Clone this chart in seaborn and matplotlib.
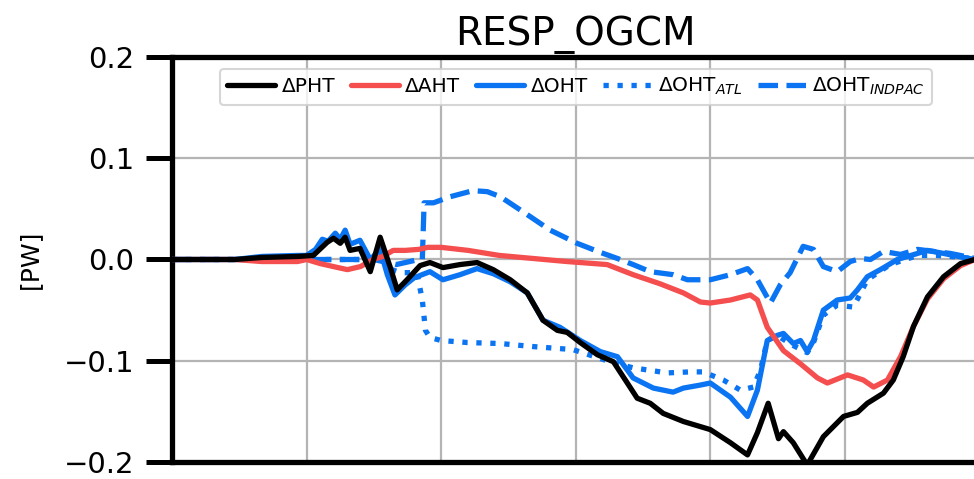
import numpy as np
import pandas as pd
import matplotlib
matplotlib.use("Agg")
import matplotlib.pyplot as plt
import seaborn as sns

# ---------------- data (latitude, PW) ----------------
lat_pht = [-90, -76, -70, -62, -58.5, -55.4, -54, -52.5, -51.4, -50.3, -48.1, -45.8, -43.6,
           -41.4, -39.8, -37.6, -34.7, -32.5, -29.6, -25.8, -22, -18.4, -14.6, -10.8, -7.3,
           -4.1, -1.9, 1.0, 4.8, 8.4, 11.5, 13.7, 16.6, 19.5, 24.0, 30.0, 34.5, 38.3, 40.5,
           42.9, 45.2, 46.3, 48.5, 51.6, 55.2, 59.7, 62.8, 65.0, 68.6, 70.8, 73.0, 75.3,
           78.4, 82.0, 85.8, 89, 90]
pht = [0, 0, 0.002, 0.003, 0.004, 0.017, 0.021, 0.016, 0.022, 0.009, 0.011, -0.012, 0.022,
       -0.007, -0.030, -0.020, -0.006, -0.003, -0.008, -0.005, -0.003, -0.010, -0.020, -0.033,
       -0.060, -0.070, -0.072, -0.082, -0.094, -0.101, -0.122, -0.137, -0.142, -0.152, -0.160,
       -0.168, -0.181, -0.193, -0.171, -0.142, -0.177, -0.170, -0.181, -0.203, -0.175, -0.155,
       -0.151, -0.142, -0.132, -0.119, -0.096, -0.066, -0.037, -0.017, -0.004, 0, 0]

lat_aht = [-90, -76, -70, -62, -60, -57, -53, -50.9, -48, -45.2, -43, -40.7, -38, -35, -33,
           -30, -28, -24, -17, -9.5, -2, 7, 12.8, 18.8, 24, 27.8, 30, 34.5, 38.9, 40.5, 42.7,
           46.3, 50.1, 53.9, 56.1, 60.6, 64.1, 66.4, 69.5, 72.4, 75.3, 78.4, 82, 85.8, 89, 90]
aht = [0, 0, -0.002, -0.002, 0, -0.004, -0.008, -0.010, -0.007, 0.0, 0.003, 0.009, 0.009,
       0.010, 0.012, 0.012, 0.011, 0.009, 0.004, 0.001, -0.002, -0.005, -0.015, -0.024, -0.033,
       -0.042, -0.043, -0.040, -0.035, -0.040, -0.067, -0.090, -0.103, -0.117, -0.122, -0.114,
       -0.119, -0.126, -0.119, -0.096, -0.066, -0.039, -0.019, -0.006, 0, 0]

lat_oht = [-90, -76, -70, -62, -60, -58, -56.5, -55.2, -53.6, -52.5, -51.4, -50.3, -48.1,
           -45.8, -43.6, -42, -40.3, -38, -36, -32.5, -29.6, -25.8, -22, -18.4, -14.6, -10.8,
           -7.3, -3.5, 1, 5.5, 9.3, 12.8, 17.3, 21.7, 24, 27.8, 30, 34.5, 38.3, 40.5, 42.7,
           44.9, 46.3, 48.5, 50.1, 51.6, 53, 55.2, 58.3, 61.2, 62.8, 65, 67.9, 71.7, 76.2,
           78.4, 82, 86.4, 89, 90]
oht = [0, 0, 0.003, 0.004, 0.004, 0.010, 0.020, 0.018, 0.026, 0.020, 0.029, 0.015, 0.019,
       0.0, 0.010, -0.015, -0.035, -0.025, -0.018, -0.012, -0.020, -0.015, -0.009, -0.014,
       -0.022, -0.033, -0.060, -0.067, -0.080, -0.091, -0.096, -0.117, -0.127, -0.131, -0.127,
       -0.124, -0.122, -0.136, -0.155, -0.129, -0.080, -0.075, -0.073, -0.083, -0.080, -0.091,
       -0.080, -0.050, -0.040, -0.038, -0.030, -0.017, -0.010, 0.0, 0.006, 0.009, 0.006,
       0.002, 0, 0]

lat_atl = [-90, -60, -43, -41, -39, -35.4, -34.2, -33.5, -32.5, -30, -24.2, -16.8, -9.5,
           -0.6, 8.4, 12.8, 20.4, 25.6, 28.4, 32.9, 36.7, 39.6, 41.2, 42.7, 44.9, 48.5, 51.6,
           53, 55.2, 58.3, 61.9, 65, 70.1, 76.2, 80.6, 86.4, 90]
atl = [0, 0, 0, -0.010, -0.013, -0.013, -0.040, -0.070, -0.077, -0.080, -0.082, -0.083,
       -0.086, -0.089, -0.102, -0.107, -0.112, -0.111, -0.111, -0.119, -0.129, -0.126, -0.109,
       -0.080, -0.075, -0.085, -0.092, -0.082, -0.055, -0.045, -0.047, -0.020, -0.005, 0.004,
       0.004, 0.002, 0]

lat_ind = [-90, -45, -40, -35, -34.2, -33.8, -31.7, -28, -22.9, -19.7, -16.8, -11.7, -5.7,
           0.3, 5.5, 9.3, 12.8, 16.6, 21.7, 24.9, 30, 34.5, 38.3, 40.5, 43.4, 45.6, 47.8, 50.7,
           53, 55.2, 58.3, 61.2, 63.5, 65.7, 68.6, 72.4, 76.2, 79.7, 83.5, 88, 90]
ind = [0, 0, -0.005, 0.0, 0.0, 0.056, 0.056, 0.062, 0.068, 0.067, 0.062, 0.047, 0.029, 0.016,
       0.007, 0.001, -0.005, -0.012, -0.015, -0.020, -0.020, -0.015, -0.009, -0.020, -0.043,
       -0.025, -0.013, 0.013, 0.010, -0.007, -0.012, -0.002, 0.001, 0.0, 0.008, 0.005, 0.010,
       0.008, 0.006, 0.002, 0]

title = "RESP_OGCM"
ylabel = "[PW]"
labels = ["ΔPHT", "ΔAHT", "ΔOHT", "ΔOHT$_{ATL}$", "ΔOHT$_{INDPAC}$"]
yticks = [-0.2, -0.1, 0.0, 0.1, 0.2]
xticks = [-60, -30, 0, 30, 60]

# ---------------- style ----------------
sns.set_style("whitegrid")
plt.rcParams['font.family'] = ['DejaVu Sans']
for k in ["text.color", "axes.labelcolor", "xtick.color", "ytick.color"]:
    plt.rcParams[k] = "black"

BLACK = "#000000"
RED = "#F44E4E"
BLUE = "#0A74F2"
LW = 3.8

fig = plt.figure(figsize=(9.74, 4.79), dpi=100)
ax = fig.add_axes([0.1766, 0.0355, 0.829, 0.8455])

def df(x, y):
    return pd.DataFrame({"lat": x, "val": y})

sns.lineplot(data=df(lat_ind, ind), x="lat", y="val", ax=ax, color=BLUE, lw=LW,
             linestyle="--", label=labels[4], zorder=2)
sns.lineplot(data=df(lat_atl, atl), x="lat", y="val", ax=ax, color=BLUE, lw=LW,
             linestyle=":", label=labels[3], zorder=2)
sns.lineplot(data=df(lat_oht, oht), x="lat", y="val", ax=ax, color=BLUE, lw=LW,
             label=labels[2], zorder=3)
sns.lineplot(data=df(lat_aht, aht), x="lat", y="val", ax=ax, color=RED, lw=LW,
             label=labels[1], zorder=4)
sns.lineplot(data=df(lat_pht, pht), x="lat", y="val", ax=ax, color=BLACK, lw=LW,
             label=labels[0], zorder=5)

ax.set_xlim(-90, 90)
ax.set_ylim(-0.2, 0.2)
ax.set_xticks(xticks)
ax.set_xticklabels([])
ax.tick_params(axis="x", length=0)
ax.set_yticks(yticks)
ax.set_yticklabels(["\u22120.2", "\u22120.1", "0.0", "0.1", "0.2"])
ax.tick_params(axis="y", labelsize=21, length=19, width=3.6, color="black",
               labelcolor="black", direction="out", pad=8, left=True)
ax.grid(True, color="#b4b4b4", lw=1.6)
for s in ax.spines.values():
    s.set_color("black")
    s.set_linewidth(3.8)
ax.set_xlabel("")
ax.set_ylabel(ylabel, fontsize=18, labelpad=16, color="black")
ax.set_title(title, fontsize=28, pad=9, color="black")

h, l = ax.get_legend_handles_labels()
order = [4, 3, 2, 1, 0]
leg = ax.legend([h[i] for i in order], [l[i] for i in order], loc="upper left",
                bbox_to_anchor=(0.0595, 0.97), borderaxespad=0, ncol=5, fontsize=14.5,
                frameon=True, handlelength=2.4, handletextpad=0.3, columnspacing=0.78,
                borderpad=0.35, fancybox=True)
leg.get_frame().set_edgecolor("#cccccc")
leg.get_frame().set_linewidth(1.5)
for t in leg.get_texts():
    t.set_color("black")

fig.savefig("out.png", dpi=100)
